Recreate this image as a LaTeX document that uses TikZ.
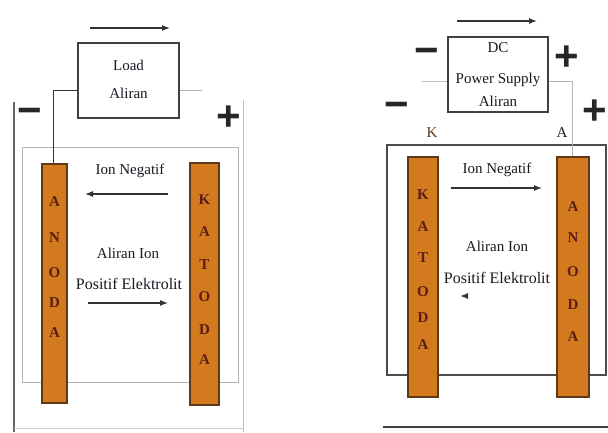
\documentclass[tikz,border=0pt]{standalone}
\usepackage{fontspec}
\setmainfont{Liberation Serif}
\newfontfamily\textface{Liberation Serif}
\newfontfamily\signfont{Liberation Sans}
\usetikzlibrary{arrows.meta,calc}
\definecolor{rodfill}{RGB}{212,122,30}
\definecolor{rodedge}{RGB}{95,55,25}
\definecolor{rodtext}{RGB}{90,30,20}
\definecolor{inktext}{RGB}{25,25,35}
\tikzset{
    rod/.style={draw=rodedge, line width=1.2pt, fill=rodfill, inner sep=0pt},
    rodletter/.style={text=rodtext, font=\textface\bfseries\fontsize{15}{15}\selectfont},
    srcbox/.style={draw=black!75, line width=1.2pt, fill=white, inner sep=0pt},
    label/.style={text=inktext, font=\textface\fontsize{15}{15}\selectfont},
    biglabel/.style={text=inktext, font=\textface\fontsize{16}{16}\selectfont},
    sign/.style={text=black!85, font=\signfont\bfseries\fontsize{42}{42}\selectfont},
    flow/.style={line width=1.1pt, black!80, -{Latex[length=8pt,width=6pt]}},
    wire/.style={line width=0.9pt},
}
\begin{document}
\begin{tikzpicture}[x=1pt, y=-1pt]
    \useasboundingbox[fill=white] (0,0) rectangle (608,432);
    % left cell: load
    \draw[black!60, line width=1.3pt] (14,102) -- (14,432);
    \draw[black!25, line width=1pt] (243,100) -- (243,432);
    \draw[black!20, line width=0.8pt] (14,428) -- (243,428);
    \draw[black!30, line width=1pt] (22,147) rectangle (238,382);
    \node[rod, minimum width=25, minimum height=239] (anodeL) at (54.5,283.5) {};
    \node[rod, minimum width=29, minimum height=242] (katodaL) at (204.5,284) {};
    \foreach \c/\y in {A/202, N/238, O/273, D/303, A/333} {
        \node[rodletter] at (54.5,\y) {\c};
    }
    \foreach \c/\y in {K/200, A/232, T/265, O/297, D/330, A/360} {
        \node[rodletter] at (204.5,\y) {\c};
    }
    \node[srcbox, minimum width=101, minimum height=75] (load) at (128.5,80.5) {};
    \node[label] (loadtop) at (128.5,65) {Load};
    \node[label] (loadbot) at (128.5,93) {Aliran};
    \coordinate (loadL) at (53,90);
    \coordinate (loadR) at (202,90);
    \draw[wire, black!80] (load.west |- loadL) -- (loadL) -- (anodeL.north -| loadL);
    \draw[wire, black!30] (load.east |- loadR) -- (loadR);
    \coordinate (topL1) at (90,28);
    \coordinate (topL2) at (170,28);
    \draw[flow] (topL1) -- (topL2);
    \node[sign] (minusL) at (30,116) {−};
    \node[sign] (plusL) at (229,118) {+};
    \node[label] (ionL) at (130,171) {Ion Negatif};
    \coordinate (ionL1) at (168,194);
    \coordinate (ionL2) at (85,194);
    \draw[flow] (ionL1) -- (ionL2);
    \node[label] (posL1) at (128,253) {Aliran Ion};
    \node[biglabel] (posL2) at (129,284) {Positif Elektrolit};
    \coordinate (posA1) at (88,303);
    \coordinate (posA2) at (168,303);
    \draw[flow] (posA1) -- (posA2);
    % right cell: DC power supply
    \draw[black!70, line width=1.2pt] (387,145) rectangle (606,375);
    \draw[black!75, line width=2pt] (383,427) -- (608,427);
    \node[rod, minimum width=30, minimum height=240] (katodaR) at (423,277) {};
    \node[rod, minimum width=32, minimum height=240] (anodeR) at (573,277) {};
    \foreach \c/\y in {K/195, A/227, T/258, O/292, D/318, A/345} {
        \node[rodletter] at (423,\y) {\c};
    }
    \foreach \c/\y in {A/207, N/238, O/272, D/305, A/337} {
        \node[rodletter] at (573,\y) {\c};
    }
    \node[srcbox, minimum width=100, minimum height=75] (dcbox) at (498,74.5) {};
    \node[label] (dctop) at (498,48) {DC};
    \node[label] (dcmid) at (498,80) {Power Supply};
    \node[label] (dcbot) at (498,101) {Aliran};
    \coordinate (dcL) at (422,81);
    \coordinate (dcR) at (572,81);
    \draw[wire, black!25] (dcL) -- (dcbox.west |- dcL);
    \draw[wire, black!30] (dcbox.east |- dcR) -- (dcR) -- (anodeR.north -| dcR);
    \coordinate (topR1) at (457,21);
    \coordinate (topR2) at (537,21);
    \draw[flow] (topR1) -- (topR2);
    \node[sign] (minusR1) at (427,56) {−};
    \node[sign] (plusR1) at (567,58) {+};
    \node[sign] (minusR2) at (397,110) {−};
    \node[sign] (plusR2) at (595,112) {+};
    \node[label, text=rodedge] (kR) at (432,133) {K};
    \node[label] (aR) at (562,133) {A};
    \node[label] (ionR) at (497,170) {Ion Negatif};
    \coordinate (ionR1) at (451,188);
    \coordinate (ionR2) at (542,188);
    \draw[flow] (ionR1) -- (ionR2);
    \node[label] (posR1) at (497,246) {Aliran Ion};
    \node[biglabel] (posR2) at (497,278) {Positif Elektrolit};
    \coordinate (posB1) at (467,296);
    \coordinate (posB2) at (460,296);
    \draw[flow] (posB1) -- (posB2);
\end{tikzpicture}
\end{document}
